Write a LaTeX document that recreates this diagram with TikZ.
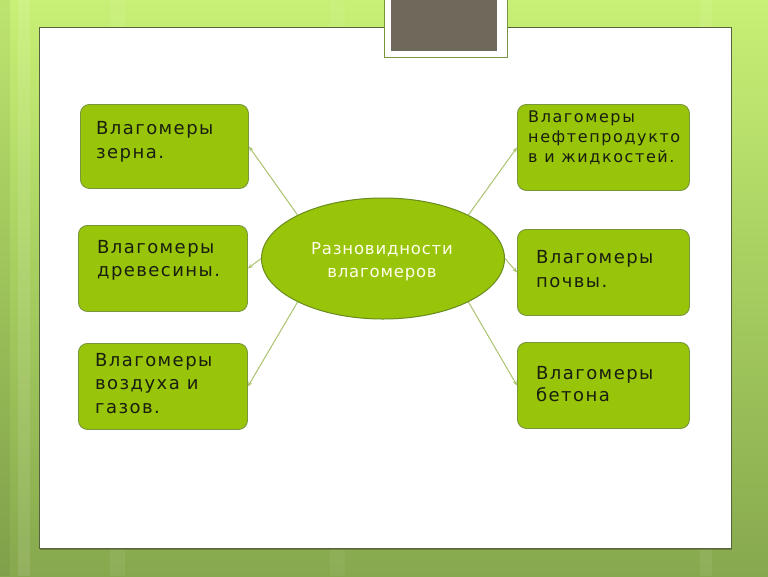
\documentclass[tikz,border=0pt]{standalone}
\usepackage{fontspec}
\setmainfont{DejaVu Sans}
\usetikzlibrary{shapes.geometric,arrows.meta}
\definecolor{bgtop}{RGB}{200,240,118}
\definecolor{bgmid}{RGB}{165,205,95}
\definecolor{bgbot}{RGB}{135,168,78}
\definecolor{boxfill}{RGB}{152,196,10}
\definecolor{boxline}{RGB}{120,150,60}
\definecolor{ellline}{RGB}{105,140,30}
\definecolor{conn}{RGB}{170,195,110}
\definecolor{graybox}{RGB}{111,105,92}
\definecolor{txt}{RGB}{25,30,15}
\definecolor{frameline}{RGB}{85,100,60}
\tikzset{
  greenbox/.style={draw=boxline, line width=0.9pt, fill=boxfill, rounded corners=9pt, inner sep=0pt, anchor=north west},
  boxtext/.style={anchor=base west, align=left, text=txt, font=\fontsize{18}{24}\selectfont\addfontfeatures{LetterSpace=8}, inner sep=0pt},
  conline/.style={draw=conn, line width=1pt, -{Stealth[length=5pt,width=4pt]}}
}
\begin{document}
\begin{tikzpicture}[x=1pt,y=-1pt]
\useasboundingbox (0,0) rectangle (768,576);
\shade[top color=bgtop, bottom color=bgbot, middle color=bgmid] (0,0) rectangle (768,576);
\fill[white, opacity=0.10] (18,0) rectangle (30,576);
\fill[white, opacity=0.06] (110,0) rectangle (125,576);
\fill[white, opacity=0.05] (330,0) rectangle (345,576);
\fill[white, opacity=0.07] (700,0) rectangle (712,576);
\fill[black, opacity=0.05] (0,0) rectangle (10,576);
% main white panel
\fill[black,opacity=0.25] (40,29) rectangle (732,550);
\node[draw=frameline, line width=1pt, fill=white, minimum width=692pt, minimum height=521pt, inner sep=0pt, anchor=north west] (panel) at (38.5,27) {};
% gray title box
\node[fill=white, draw=boxline, line width=0.8pt, minimum width=123pt, minimum height=58pt, inner sep=0pt, anchor=north west] (titleframe) at (383.5,-1) {};
\node[fill=graybox, minimum width=106pt, minimum height=51pt, inner sep=0pt, anchor=north west] (titlebox) at (391,0) {};
% boxes
\node[greenbox, minimum width=168pt, minimum height=84pt] (b1) at (80,104) {};
\node[greenbox, minimum width=169pt, minimum height=86pt] (b2) at (78,225) {};
\node[greenbox, minimum width=169pt, minimum height=86pt] (b3) at (78,343) {};
\node[greenbox, minimum width=172pt, minimum height=86pt] (b4) at (517,104) {};
\node[greenbox, minimum width=172pt, minimum height=86pt] (b5) at (517,229) {};
\node[greenbox, minimum width=172pt, minimum height=86pt] (b6) at (517,342) {};
% texts (anchored at the baseline of the last line)
\node[boxtext] (t1) at (96,158) {Влагомеры\\зерна.};
\node[boxtext, font=\fontsize{18}{23}\selectfont\addfontfeatures{LetterSpace=8}] (t2) at (97,276) {Влагомеры\\древесины.};
\node[boxtext, font=\fontsize{18}{23.5}\selectfont\addfontfeatures{LetterSpace=8}] (t3) at (95,413) {Влагомеры\\воздуха и\\газов.};
\node[boxtext, font=\fontsize{16}{20}\selectfont\addfontfeatures{LetterSpace=10}] (t4) at (528,162) {Влагомеры\\нефтепродукто\\в и жидкостей.};
\node[boxtext] (t5) at (536,287) {Влагомеры\\почвы.};
\node[boxtext, font=\fontsize{18}{22}\selectfont\addfontfeatures{LetterSpace=8}] (t6) at (536,401) {Влагомеры\\бетона};
% ellipse
\node[ellipse, draw=ellline, line width=1pt, fill=boxfill, minimum width=243pt, minimum height=121pt, inner sep=0pt] (c) at (383,258.5) {};
\node[anchor=base, align=center, inner sep=0pt, text=white!92!yellow, font=\fontsize{16.5}{23}\selectfont\addfontfeatures{LetterSpace=5}] (ct) at (382,277) {Разновидности\\влагомеров};
% connectors
\draw[conline] (c.153) -- (b1.east);
\draw[conline] (c.west) -- (b2.east);
\draw[conline] (c.207) -- (b3.east);
\draw[conline] (c.27) -- (b4.west);
\draw[conline] (c.east) -- (b5.west);
\draw[conline] (c.333) -- (b6.west);
\end{tikzpicture}
\end{document}
